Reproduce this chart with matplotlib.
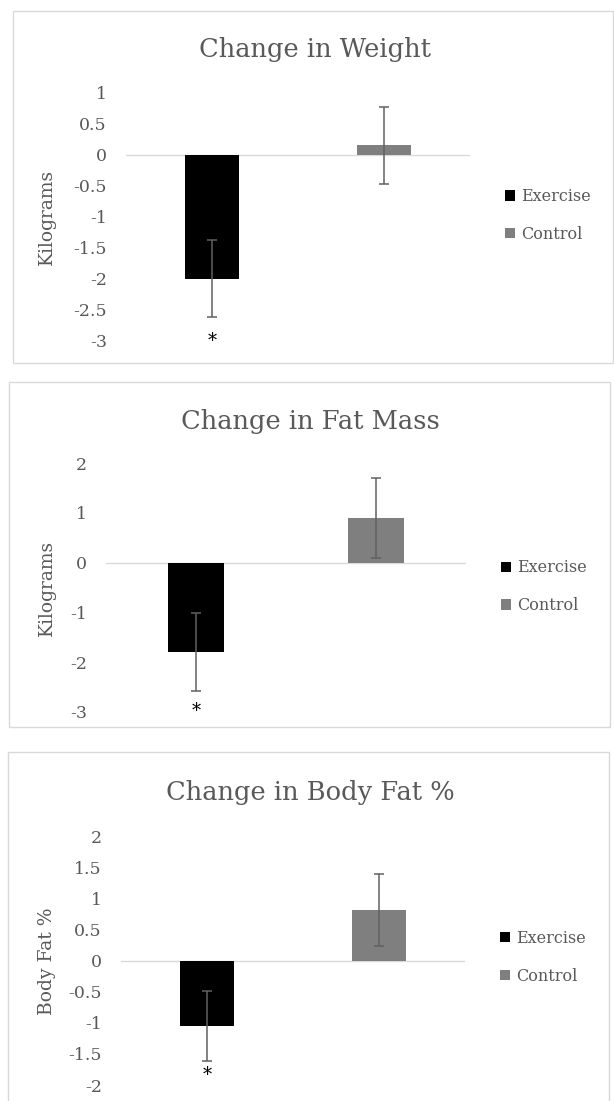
import matplotlib
matplotlib.use("Agg")
import matplotlib.pyplot as plt
from matplotlib.patches import Rectangle

W, H = 614, 1101

groups = ["Exercise", "Control"]
bar_colors = ["#000000", "#7f7f7f"]

titles = ["Change in Weight", "Change in Fat Mass", "Change in Body Fat %"]
ylabels = ["Kilograms", "Kilograms", "Body Fat %"]

weight = [-2.0, 0.15]
weight_err = [0.62, 0.62]
fat_mass = [-1.8, 0.9]
fat_mass_err = [0.79, 0.80]
body_fat = [-1.05, 0.82]
body_fat_err = [0.57, 0.58]

# asterisk under the exercise bar
star_y = [-2.96, -2.94, -1.80]

weight_ticks = [1, 0.5, 0, -0.5, -1, -1.5, -2, -2.5, -3]
weight_labels = ["1", "0.5", "0", "-0.5", "-1", "-1.5", "-2", "-2.5", "-3"]
fat_mass_ticks = [2, 1, 0, -1, -2, -3]
fat_mass_labels = ["2", "1", "0", "-1", "-2", "-3"]
body_fat_ticks = [2, 1.5, 1, 0.5, 0, -0.5, -1, -1.5, -2]
body_fat_labels = ["2", "1.5", "1", "0.5", "0", "-0.5", "-1", "-1.5", "-2"]

TEXT = "#595959"
plt.rcParams['font.family'] = ['DejaVu Serif']


def fx(px):
    return px / W


def fy(py):
    return 1 - py / H


fig = plt.figure(figsize=(W / 100, H / 100), dpi=100)

panels = [
    dict(values=weight, err=weight_err, ticks=weight_ticks, labels=weight_labels,
         box=(13, 11, 613, 363), ax=(126, 92.7, 470, 340.7), title_x=315, title_y=57,
         leg=(505, 215.5)),
    dict(values=fat_mass, err=fat_mass_err, ticks=fat_mass_ticks, labels=fat_mass_labels,
         box=(9, 382, 610, 727), ax=(106, 463.3, 466, 711.7), title_x=310, title_y=429.3,
         leg=(501, 586.7)),
    dict(values=body_fat, err=body_fat_err, ticks=body_fat_ticks, labels=body_fat_labels,
         box=(8, 752, 609, 1115), ax=(121, 836.7, 465, 1085), title_x=310, title_y=800,
         leg=(500, 957.3)),
]

for i, p in enumerate(panels):
    l, t, r, b = p["box"]
    fig.patches.append(Rectangle((fx(l), fy(b)), fx(r) - fx(l), fy(t) - fy(b),
                                 transform=fig.transFigure, fill=False,
                                 edgecolor="#d9d9d9", linewidth=1.0))

    al, at, ar, ab = p["ax"]
    ax = fig.add_axes([fx(al), fy(ab), fx(ar) - fx(al), fy(at) - fy(ab)])
    ax.set_xlim(-0.5, 1.5)
    ax.set_ylim(min(p["ticks"]), max(p["ticks"]))

    ax.axhline(0, color="#d9d9d9", linewidth=1.0, zorder=1)
    for j in range(2):
        ax.bar(j, p["values"][j], width=0.31, color=bar_colors[j], label=groups[j], zorder=2)
    ax.errorbar(range(2), p["values"], yerr=p["err"], fmt="none", ecolor="#606060",
                elinewidth=1.1, capsize=3.6, capthick=1.1, zorder=3)

    ax.annotate("*", (0, star_y[i]), xytext=(0, -2), textcoords="offset points",
                ha="center", va="center", fontsize=13, color="black")

    for s in ax.spines.values():
        s.set_visible(False)
    ax.set_xticks([])
    ax.set_yticks(p["ticks"])
    ax.set_yticklabels(p["labels"])
    ax.tick_params(axis="y", length=0, pad=13.7, labelsize=12.5, labelcolor=TEXT)

    fig.text(fx(p["title_x"]), fy(p["title_y"]), titles[i], ha="center", va="baseline",
             fontsize=18.5, color=TEXT)
    fig.text(fx(47), fy((at + ab) / 2), ylabels[i], rotation=90, ha="center", va="center",
             fontsize=13.5, color=TEXT)

    lx, ly = p["leg"]
    ax.legend(loc="center left", bbox_to_anchor=(fx(lx), fy(ly)), bbox_transform=fig.transFigure,
              frameon=False, fontsize=11.5, labelcolor=TEXT, borderpad=0, borderaxespad=0,
              handlelength=0.62, handleheight=0.62, handletextpad=0.36, labelspacing=1.3)

fig.savefig("out.png", dpi=100)
